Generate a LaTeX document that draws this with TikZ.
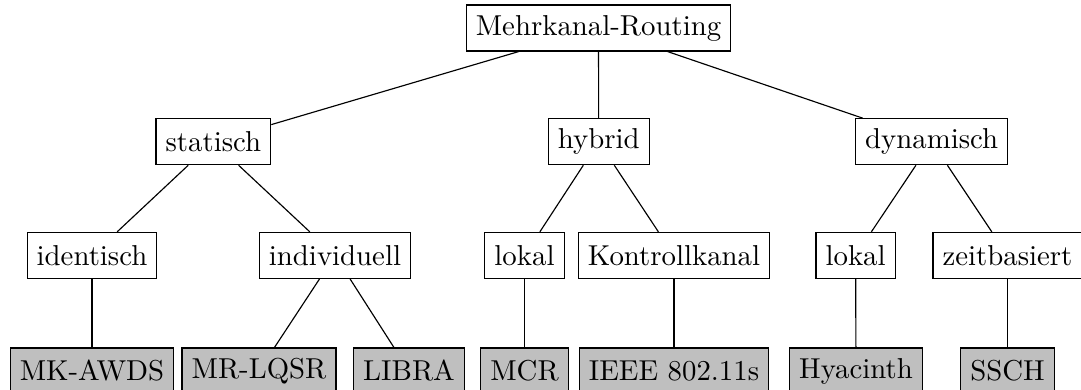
\documentclass[tikz,border=0pt]{standalone}
\begin{document}
\begin{tikzpicture}[
    x=0.3472pt, y=-0.3472pt,
    box/.style={draw, minimum height=15.97pt},
    leaf/.style={box, fill=black!25},
  ]
  \useasboundingbox (0,0) rectangle (1081,390);

  % root
  \node[box] (root) at (598.5,28) {Mehrkanal-Routing};

  % first level
  \node[box] (stat) at (213.4,141.7) {statisch};
  \node[box] (hyb)  at (598.7,141.7) {hybrid};
  \node[box] (dyn)  at (931.7,141.7) {dynamisch};

  % second level
  \node[box] (ident) at (92,255.4)    {identisch};
  \node[box] (indiv) at (335,255.4)   {individuell};
  \node[box] (lokA)  at (524.5,255.4) {lokal};
  \node[box] (kontr) at (674,255.4)   {Kontrollkanal};
  \node[box] (lokB)  at (855.6,255.4) {lokal};
  \node[box] (zeit)  at (1007.5,255.4) {zeitbasiert};

  % protocols
  \node[leaf] (mkawds) at (92,371)    {MK-AWDS};
  \node[leaf] (mrlqsr) at (259,371)   {MR-LQSR};
  \node[leaf] (libra)  at (409,371)   {LIBRA};
  \node[leaf] (mcr)    at (524.5,371) {MCR};
  \node[leaf] (ieee)   at (674,371)   {IEEE 802.11s};
  \node[leaf] (hya)    at (856,371)   {Hyacinth};
  \node[leaf] (ssch)   at (1007.5,371) {SSCH};

  % connectors
  \draw (root) -- (stat);
  \draw (root) -- (hyb);
  \draw (root) -- (dyn);
  \draw (stat) -- (ident);
  \draw (stat) -- (indiv);
  \draw (hyb) -- (lokA);
  \draw (hyb) -- (kontr);
  \draw (dyn) -- (lokB);
  \draw (dyn) -- (zeit);
  \draw (ident) -- (mkawds);
  \draw (indiv) -- (mrlqsr);
  \draw (indiv) -- (libra);
  \draw (lokA) -- (mcr);
  \draw (kontr) -- (ieee);
  \draw (lokB) -- (hya);
  \draw (zeit) -- (ssch);
\end{tikzpicture}
\end{document}
